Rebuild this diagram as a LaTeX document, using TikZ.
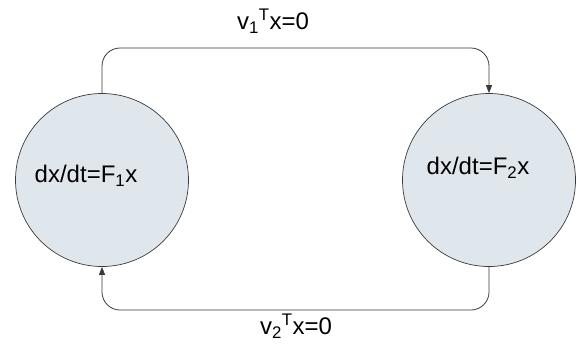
\documentclass[tikz,border=0pt]{standalone}
\usepackage{fontspec}
\setmainfont{Liberation Sans}
\usepackage{xcolor}
\usepackage{tikz}
\usetikzlibrary{positioning,arrows.meta,calc}
\definecolor{statefill}{HTML}{DFE6EC}
\definecolor{edgegray}{HTML}{3A3A3A}
\tikzset{
  state/.style={draw=edgegray,circle,fill=statefill,minimum size=173pt,inner sep=0pt,line width=0.7pt},
  eqn/.style={font=\fontsize{24}{28}\selectfont,inner sep=0pt},
  arr/.style={-{Triangle[length=8pt,width=6pt]},draw=edgegray,line width=0.8pt,rounded corners=18pt}
}
\begin{document}
\begin{tikzpicture}[x=1pt,y=-1pt]
  \useasboundingbox (0,0) rectangle (585,354);
  \node[state] (sysone) at (102,180) {};
  \node[state] (systwo) at (489,180) {};
  \node[eqn] (eqone) at (86,176) {dx/dt=F\textsubscript{1}x};
  \node[eqn] (eqtwo) at (478,168) {dx/dt=F\textsubscript{2}x};
  \coordinate (toprun) at (295,48);
  \coordinate (botrun) at (295,310);
  \draw[arr] (sysone.north) |- (toprun) -| (systwo.north);
  \draw[arr] (systwo.south) |- (botrun) -| (sysone.south);
  \node[eqn] (guardone) at (273,21) {v\textsubscript{1}\textsuperscript{T}x=0};
  \node[eqn] (guardtwo) at (296,326) {v\textsubscript{2}\textsuperscript{T}x=0};
\end{tikzpicture}
\end{document}
